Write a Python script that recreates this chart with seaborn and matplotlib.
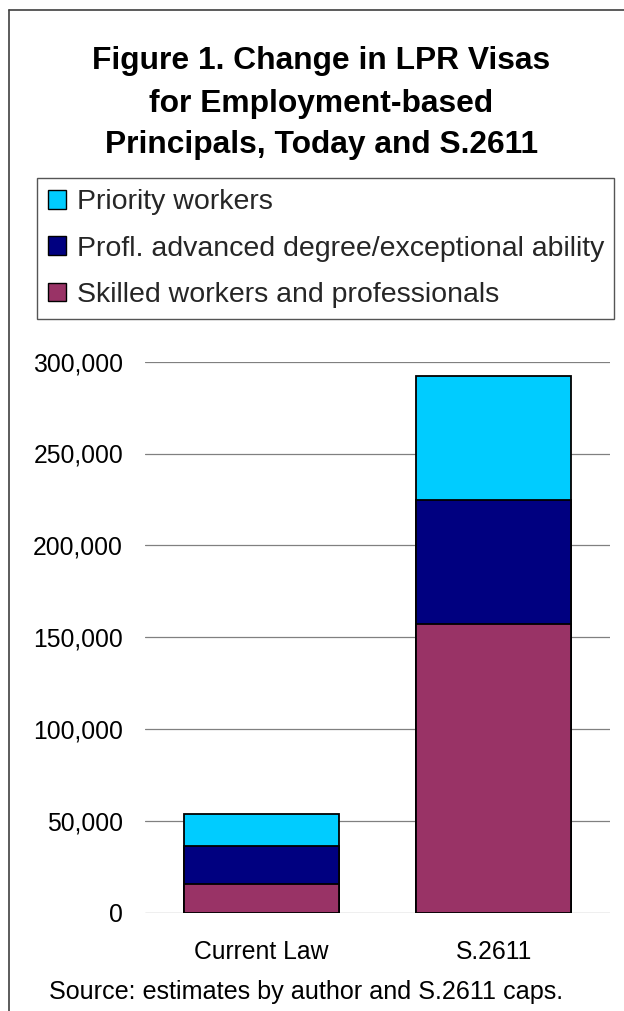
import matplotlib
matplotlib.use("Agg")
import matplotlib.pyplot as plt
from matplotlib.patches import Patch
from matplotlib.lines import Line2D
from matplotlib.ticker import FuncFormatter
import seaborn as sns
import pandas as pd

# Employment-based principals by preference category
plans = ["Current Law", "S.2611"]
skilled = [15500, 157000]        # Skilled workers and professionals
advanced = [20800, 67500]        # Profl. advanced degree/exceptional ability
priority = [17400, 67500]        # Priority workers

series_names = [
    "Priority workers",
    "Profl. advanced degree/exceptional ability",
    "Skilled workers and professionals",
]
series_colors = ["#00CCFF", "#000080", "#993366"]

title_lines = [
    "Figure 1. Change in LPR Visas",
    "for Employment-based",
    "Principals, Today and S.2611",
]
source_note = "Source: estimates by author and S.2611 caps."

sns.set_theme(style="white")
plt.rcParams["font.family"] = ["Liberation Sans", "DejaVu Sans"]

W, H = 624, 1011
fig = plt.figure(figsize=(W / 100, H / 100), dpi=100)

# axes placement in pixel terms
ax_left, ax_right, ax_top, ax_bottom = 145, 610, 361.7, 912.5
ax = fig.add_axes([ax_left / W, 1 - ax_bottom / H,
                   (ax_right - ax_left) / W, (ax_bottom - ax_top) / H])

# stacked bars: draw cumulative totals from the top layer down
cum_skilled = skilled
cum_advanced = [s + a for s, a in zip(skilled, advanced)]
cum_priority = [s + a + p for s, a, p in zip(skilled, advanced, priority)]
layers = [cum_priority, cum_advanced, cum_skilled]

for vals, color in zip(layers, series_colors):
    df = pd.DataFrame({"plan": plans, "value": vals})
    sns.barplot(data=df, x="plan", y="value", order=plans, color=color,
                saturation=1, width=0.667, edgecolor="black", linewidth=1.3,
                ax=ax, zorder=3)

ax.set_ylim(0, 300000)
ax.set_xlim(-0.5, 1.5)
ax.set_yticks(range(0, 300001, 50000))
ax.yaxis.set_major_formatter(FuncFormatter(lambda v, _: f"{int(v):,}"))
ax.yaxis.grid(True, color="#808080", linewidth=0.9, zorder=0)
ax.xaxis.grid(False)
ax.set_axisbelow(True)
for side in ["left", "right", "top", "bottom"]:
    ax.spines[side].set_visible(False)
ax.set_xlabel("")
ax.set_ylabel("")
ax.tick_params(axis="y", length=0, pad=15.8, labelsize=17.8, labelcolor="black")
ax.tick_params(axis="x", length=0, pad=19.8, labelsize=17.8, labelcolor="black")
ax.set_facecolor("white")

# title, three centered bold lines
for txt, base in zip(title_lines, [69, 112, 153]):
    fig.text(321.5 / W, 1 - base / H, txt, ha="center", va="baseline",
             fontsize=22.9, fontweight="bold", color="black")

# legend box
handles = [Patch(facecolor=c, edgecolor="black", linewidth=1.0)
           for c in series_colors]
leg = fig.legend(handles=handles, labels=series_names, loc="upper left",
                 bbox_to_anchor=(36.7 / W, 1 - 178.3 / H, (613.7 - 36.7) / W, 0),
                 mode="expand", borderaxespad=0, fontsize=20.5,
                 labelspacing=0.71, borderpad=0.39, handlelength=0.63,
                 handleheight=0.63, handletextpad=0.38, fancybox=False,
                 framealpha=1, edgecolor="#555555")
leg.get_frame().set_linewidth(1.0)

# source note
fig.text(306 / W, 1 - 999 / H, source_note, ha="center", va="baseline",
         fontsize=18.1, color="black")

# outer frame (left and top edges)
fig.add_artist(Line2D([9 / W, 9 / W], [1 - 10 / H, 0], transform=fig.transFigure,
                      color="#404040", linewidth=1.2))
fig.add_artist(Line2D([9 / W, 1], [1 - 10 / H, 1 - 10 / H], transform=fig.transFigure,
                      color="#404040", linewidth=1.2))

fig.savefig("out.png", dpi=100, facecolor="white")
